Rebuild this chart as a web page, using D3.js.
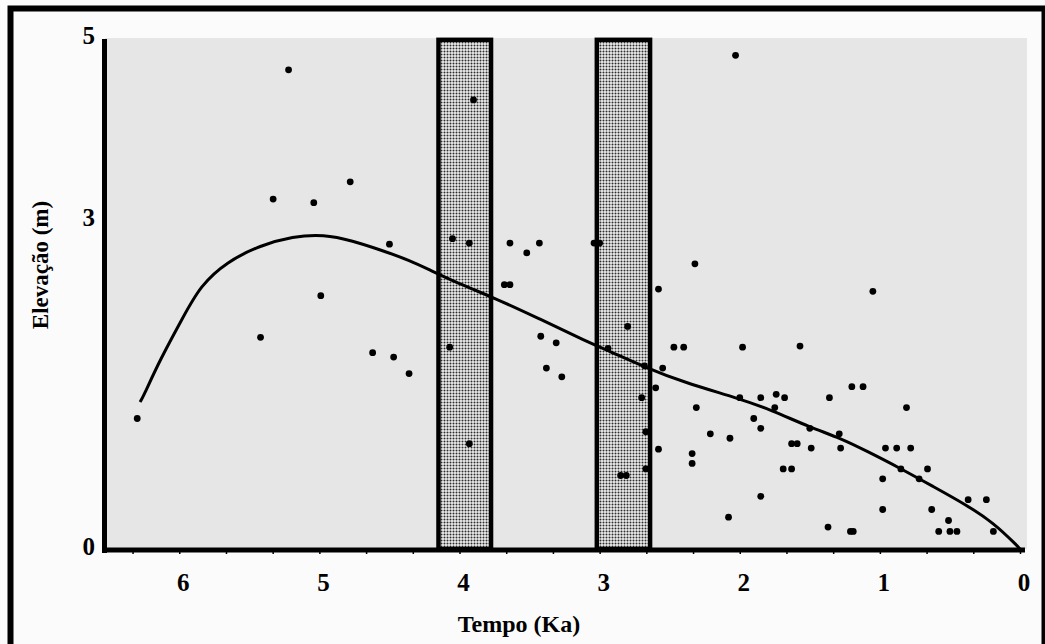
<!DOCTYPE html>
<html lang="pt">
	<head>
		<meta charset="utf-8">
		<title>Elevação x Tempo</title>
		<script src="https://d3js.org/d3.v7.min.js"></script>
		<style type="text/css">
			body, html {
				margin: 0;
				padding: 0;
				background: #fbfbfb;
			}
			svg {
				display: block;
			}
			text {
				font-family: "Liberation Serif", "DejaVu Serif", serif;
				font-weight: bold;
				fill: #000;
			}
		</style>
	</head>
	<body>
		<div id="chart"></div>
		<script type="text/javascript">

		// tick labels
		var xTicks = [6, 5, 4, 3, 2, 1, 0]
		var yTicks = [0, 3, 5]
		var xTitle = "Tempo (Ka)"
		var yTitle = "Elevação (m)"

		// shaded intervals (Ka)
		var barFrom = [4.15, 3.02]
		var barTo = [3.775, 2.64]
		var barTop = 4.98

		// dated samples: age (Ka) and elevation (m)
		var pointAge = [5.22, 5.33, 5.04, 4.78, 4.50, 4.99, 5.42, 4.62, 4.47, 4.36, 6.30, 2.03, 3.90, 4.05, 3.93,
			3.64, 3.43, 3.52, 3.68, 3.64, 3.04, 3.00, 2.32, 2.58, 4.07, 3.93, 3.42, 3.31, 3.38, 3.27,
			2.80, 2.94, 2.68, 2.55, 2.60, 2.70, 2.67, 2.67, 2.85, 2.81, 2.58, 2.47, 2.40, 1.98, 2.31,
			2.21, 2.07, 2.34, 2.34, 2.08, 2.00, 1.57, 1.85, 1.74, 1.68, 1.75, 1.90, 1.85, 1.63, 1.59,
			1.49, 1.69, 1.63, 1.85, 1.20, 1.12, 1.36, 1.29, 1.28, 1.50, 0.96, 0.88, 0.78, 0.81, 0.98,
			0.85, 0.72, 0.66, 0.98, 0.63, 0.51, 0.58, 0.50, 0.45, 1.37, 1.21, 1.19, 0.37, 0.24, 0.19, 1.05]
		var pointElev = [4.65, 3.23, 3.19, 3.42, 2.78, 2.31, 1.93, 1.79, 1.75, 1.60, 1.19, 4.81, 4.32, 2.83, 2.79,
			2.79, 2.79, 2.70, 2.41, 2.41, 2.79, 2.79, 2.60, 2.37, 1.84, 0.96, 1.94, 1.88, 1.65, 1.57,
			2.03, 1.83, 1.67, 1.65, 1.47, 1.38, 1.07, 0.73, 0.67, 0.67, 0.91, 1.84, 1.84, 1.84, 1.29,
			1.05, 1.01, 0.87, 0.78, 0.29, 1.38, 1.85, 1.38, 1.41, 1.38, 1.29, 1.19, 1.10, 0.96, 0.96,
			0.92, 0.73, 0.73, 0.48, 1.48, 1.48, 1.38, 1.05, 0.92, 1.10, 0.92, 0.92, 0.92, 1.29, 0.64,
			0.73, 0.64, 0.73, 0.36, 0.36, 0.26, 0.16, 0.16, 0.16, 0.20, 0.16, 0.16, 0.45, 0.45, 0.16, 2.35]

		// fitted curve
		var curveAge = [6.28, 6.26, 6.14, 5.97, 5.85, 5.66, 5.42, 5.19, 4.97, 4.76, 4.57, 4.35, 4.19, 3.95, 3.77, 3.43,
			3.09, 2.94, 2.68, 2.40, 2.00, 1.78, 1.50, 1.28, 1.09, 0.86, 0.62, 0.38, 0.19, 0.02, 0.00]
		var curveElev = [1.34, 1.38, 1.72, 2.12, 2.40, 2.62, 2.77, 2.85, 2.87, 2.81, 2.73, 2.63, 2.53, 2.39, 2.30, 2.10,
			1.89, 1.81, 1.66, 1.52, 1.37, 1.27, 1.11, 1.01, 0.89, 0.74, 0.57, 0.40, 0.24, 0.03, 0.00]

		var width = 1045, height = 644

		var svg = d3.select("#chart").append("svg")
			.attr("width", width)
			.attr("height", height)

		var plot = {left: 105, right: 1027, top: 38}

		var xScale = d3.scaleLinear()
			.domain([6.53, -0.05])
			.range([plot.left, plot.right])

		// the printed axis is not evenly spaced between its labels
		var yScale = d3.scaleLinear()
			.domain([0, 3, 5])
			.range([549, 220, 38])

		// stippled screen used for the two intervals
		var defs = svg.append("defs")
		var pattern = defs.append("pattern")
			.attr("id", "stipple")
			.attr("patternUnits", "userSpaceOnUse")
			.attr("width", 3)
			.attr("height", 3)
		pattern.append("rect")
			.attr("width", 3)
			.attr("height", 3)
			.attr("fill", "#dedede")
		pattern.append("rect")
			.attr("width", 3)
			.attr("height", 1)
			.attr("fill", "#9c9c9c")
		pattern.append("rect")
			.attr("width", 1)
			.attr("height", 3)
			.attr("fill", "#9c9c9c")
		pattern.append("rect")
			.attr("width", 1)
			.attr("height", 1)
			.attr("fill", "#2e2e2e")

		// outer frame
		svg.append("rect")
			.attr("x", 10.5)
			.attr("y", 8.5)
			.attr("width", 1034)
			.attr("height", 700)
			.attr("fill", "none")
			.attr("stroke", "#000")
			.attr("stroke-width", 6)

		// plot background
		svg.append("rect")
			.attr("x", plot.left)
			.attr("y", plot.top)
			.attr("width", plot.right - plot.left)
			.attr("height", yScale(0) - plot.top)
			.attr("fill", "#e6e6e6")

		var g = svg.append("g")

		// shaded intervals
		g.selectAll("rect.band")
			.data(barFrom)
			.enter().append("rect")
			.attr("class", "band")
			.attr("x", d => xScale(d))
			.attr("y", yScale(barTop))
			.attr("width", (d, i) => xScale(barTo[i]) - xScale(d))
			.attr("height", yScale(0) - yScale(barTop))
			.attr("fill", "url(#stipple)")
			.attr("stroke", "#000")
			.attr("stroke-width", 4.5)

		// fitted curve
		var line = d3.line()
			.x(d => xScale(d[0]))
			.y(d => yScale(d[1]))
			.curve(d3.curveBasis)

		g.append("path")
			.attr("d", line(curveAge.map((d, i) => [d, curveElev[i]])))
			.attr("fill", "none")
			.attr("stroke", "#000")
			.attr("stroke-width", 3)

		// samples
		g.selectAll("circle.pt")
			.data(pointAge)
			.enter().append("circle")
			.attr("class", "pt")
			.attr("cx", d => xScale(d))
			.attr("cy", (d, i) => yScale(pointElev[i]))
			.attr("r", 3.4)
			.attr("fill", "#000")

		// x axis: line + minor ticks every 1/3 Ka
		var xAxis = svg.append("g")
			.attr("transform", "translate(0," + (yScale(0) + 1) + ")")
			.call(d3.axisBottom(xScale)
				.tickValues(d3.range(0, 20).map(i => i / 3))
				.tickSize(4)
				.tickSizeOuter(0)
				.tickFormat(""))
		xAxis.select(".domain")
			.attr("stroke-width", 5)
			.attr("d", "M" + (plot.left - 3) + ",0H" + (xScale(0) + 5))
		xAxis.selectAll(".tick line").attr("stroke-width", 1.5)

		svg.selectAll("text.xlab")
			.data(xTicks)
			.enter().append("text")
			.attr("class", "xlab")
			.attr("x", d => xScale(d) + 4)
			.attr("y", 591)
			.attr("text-anchor", "middle")
			.attr("font-size", 25)
			.text(d => d)

		// y axis
		svg.append("line")
			.attr("x1", plot.left - 0.5)
			.attr("x2", plot.left - 0.5)
			.attr("y1", yScale(5) + 1)
			.attr("y2", yScale(0) + 4)
			.attr("stroke", "#000")
			.attr("stroke-width", 5)

		svg.selectAll("text.ylab")
			.data(yTicks)
			.enter().append("text")
			.attr("class", "ylab")
			.attr("x", 95)
			.attr("y", d => yScale(d) - 3)
			.attr("dy", "0.35em")
			.attr("text-anchor", "end")
			.attr("font-size", 25)
			.text(d => d)

		svg.append("text")
			.text(xTitle)
			.attr("x", 519)
			.attr("y", 632)
			.attr("text-anchor", "middle")
			.attr("font-size", 24)

		svg.append("text")
			.text(yTitle)
			.attr("text-anchor", "middle")
			.attr("font-size", 23)
			.attr("transform", "translate(48,265) rotate(-90)")

		</script>
	</body>
</html>
